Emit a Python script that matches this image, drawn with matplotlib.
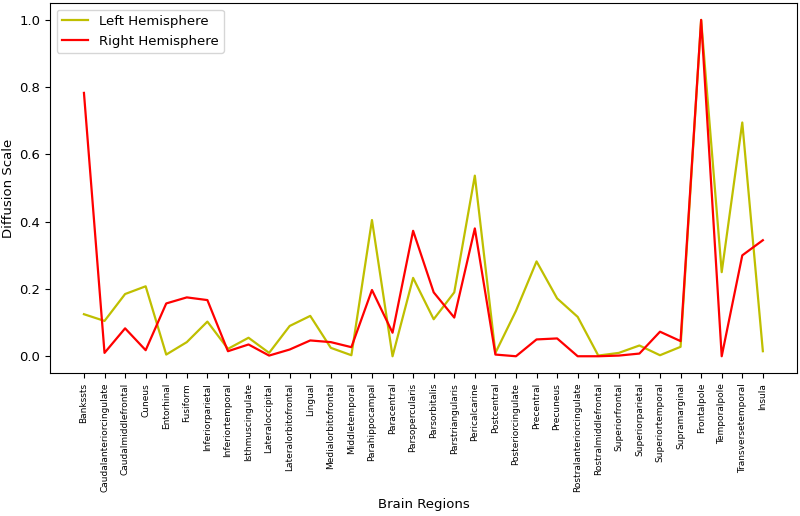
import numpy as np
from matplotlib import pyplot as plt

regions = ['Bankssts', 'Caudalanteriorcingulate', 'Caudalmiddlefrontal', 'Cuneus',
           'Entorhinal', 'Fusiform', 'Inferiorparietal', 'Inferiortemporal',
           'Isthmuscingulate', 'Lateraloccipital', 'Lateralorbitofrontal', 'Lingual',
           'Medialorbitofrontal', 'Middletemporal', 'Parahippocampal', 'Paracentral',
           'Parsopercularis', 'Parsorbitalis', 'Parstriangularis', 'Pericalcarine',
           'Postcentral', 'Posteriorcingulate', 'Precentral', 'Precuneus',
           'Rostralanteriorcingulate', 'Rostralmiddlefrontal', 'Superiorfrontal',
           'Superiorparietal', 'Superiortemporal', 'Supramarginal', 'Frontalpole',
           'Temporalpole', 'Transversetemporal', 'Insula']

left_hemi = [0.125, 0.105, 0.185, 0.208, 0.005, 0.042, 0.103, 0.022, 0.055, 0.010,
             0.090, 0.120, 0.025, 0.003, 0.405, 0.000, 0.233, 0.110, 0.190, 0.537,
             0.010, 0.135, 0.282, 0.172, 0.117, 0.002, 0.010, 0.032, 0.003, 0.028,
             1.000, 0.250, 0.695, 0.015]

right_hemi = [0.783, 0.010, 0.083, 0.018, 0.157, 0.175, 0.167, 0.015, 0.035, 0.002,
              0.020, 0.047, 0.042, 0.027, 0.197, 0.070, 0.373, 0.190, 0.115, 0.380,
              0.005, 0.000, 0.050, 0.053, 0.000, 0.000, 0.002, 0.008, 0.073, 0.045,
              1.000, 0.000, 0.300, 0.345]

x = np.arange(len(regions))

fig, ax = plt.subplots(figsize=(8, 5.16), dpi=100)
fig.subplots_adjust(left=0.0625, right=0.996, top=0.994, bottom=0.277)

ax.plot(x, left_hemi, color='y', lw=1.6, label='Left Hemisphere')
ax.plot(x, right_hemi, color='r', lw=1.6, label='Right Hemisphere')

ax.set_xticks(x)
ax.set_xticklabels(regions, rotation=90, fontsize=6.5)
ax.tick_params(axis='y', labelsize=9.5)
ax.set_xlabel('Brain Regions', fontsize=9.5)
ax.set_ylabel('Diffusion Scale', fontsize=9.5, labelpad=3)
ax.legend(loc='upper left', fontsize=9.5)

plt.savefig('out.png')
